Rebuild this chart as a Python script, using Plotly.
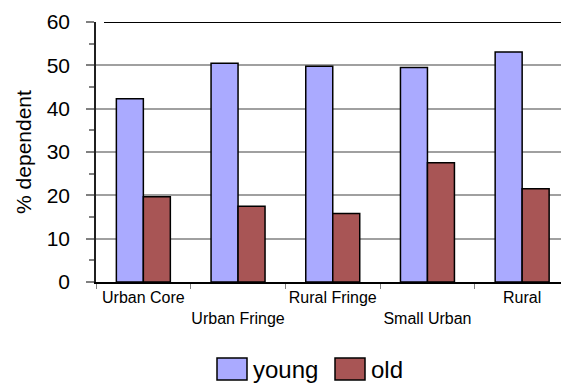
import plotly.graph_objects as go

# Dependency ratios by settlement type
categories = ["Urban Core", "Urban Fringe", "Rural Fringe", "Small Urban", "Rural"]
young = [42.3, 50.5, 49.8, 49.5, 53.1]
old = [19.7, 17.5, 15.8, 27.5, 21.5]
series_names = ["young", "old"]
y_ticks = [0, 10, 20, 30, 40, 50, 60]

# staggered category labels (every second one dropped a line)
tick_labels = [c if i % 2 == 0 else "<br>" + c for i, c in enumerate(categories)]

W, H = 561, 383
L, R, T, B = 96, 0, 22, 101
plot_w = W - L - R
plot_h = H - T - B

YOUNG_COLOR = "#AAAAFF"
OLD_COLOR = "#A85555"
FONT = "Liberation Sans, Arial, sans-serif"

fig = go.Figure()
fig.add_trace(go.Bar(x=categories, y=young, name=series_names[0],
                     marker=dict(color=YOUNG_COLOR, line=dict(color="black", width=1.5)),
                     showlegend=False))
fig.add_trace(go.Bar(x=categories, y=old, name=series_names[1],
                     marker=dict(color=OLD_COLOR, line=dict(color="black", width=1.5)),
                     showlegend=False))


def px_x(px):
    return (px - L) / plot_w


def px_y(py):
    return (H - B - py) / plot_h


# hand-made legend with wide swatches
legend_items = [(series_names[0], YOUNG_COLOR, 217), (series_names[1], OLD_COLOR, 335)]
for name, color, x0 in legend_items:
    fig.add_shape(type="rect", xref="paper", yref="paper",
                  x0=px_x(x0), x1=px_x(x0 + 30), y0=px_y(380), y1=px_y(358),
                  fillcolor=color, line=dict(color="black", width=1.5))
    fig.add_annotation(xref="paper", yref="paper", x=px_x(x0 + 34), y=px_y(369),
                       text=name, showarrow=False, xanchor="left", yanchor="middle",
                       font=dict(family=FONT, size=24, color="black"))

# dark frame line along the top of the plot area
fig.add_shape(type="line", xref="paper", yref="y", x0=px_x(104), x1=1, y0=60, y1=60,
              line=dict(color="black", width=2))

fig.update_layout(
    width=W, height=H,
    margin=dict(l=L, r=R, t=T, b=B),
    paper_bgcolor="white", plot_bgcolor="white",
    barmode="group", bargap=0.43, bargroupgap=0,
    font=dict(family=FONT, color="black"),
    xaxis=dict(
        type="category",
        range=[-0.5, -0.5 + plot_w / 94.7],
        tickmode="array", tickvals=categories, ticktext=tick_labels,
        tickson="boundaries", ticks="outside", ticklen=5, tickcolor="#808080",
        showline=True, linecolor="black", linewidth=1.5,
        showgrid=False, tickangle=0,
        tickfont=dict(size=16, family=FONT, color="black"),
    ),
    yaxis=dict(
        range=[0, 60], tickvals=y_ticks,
        ticks="outside", ticklen=8, tickcolor="#808080", tickwidth=1.5,
        ticklabelstandoff=12,
        minor=dict(dtick=5, ticks="outside", ticklen=5, tickcolor="#808080", tickwidth=1.5, showgrid=False),
        showline=True, linecolor="#202020", linewidth=1.5,
        showgrid=True, gridcolor="#A0A0A0", gridwidth=1.5,
        zeroline=False,
        tickfont=dict(size=21, family=FONT, color="black"),
        title=dict(text="% dependent", font=dict(size=21, family=FONT, color="black"), standoff=9),
    ),
)

fig.write_html("out.html")
